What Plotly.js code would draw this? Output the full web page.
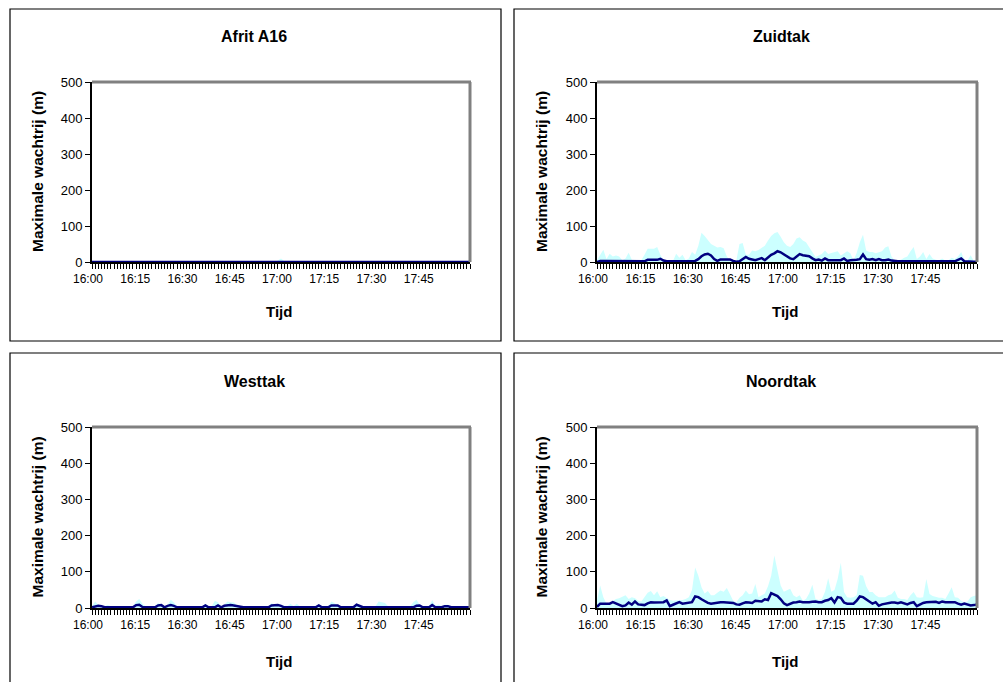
<!DOCTYPE html>
<html>
<head>
<meta charset="utf-8">
<script src="https://cdn.plot.ly/plotly-3.0.1.min.js"></script>
<style>
html,body{margin:0;padding:0;background:#fff;}
#chart{width:1003px;height:682px;}
</style>
</head>
<body>
<div id="chart"></div>
<script>
// Category axis: one point per minute, 16:00 .. 18:00
const START_HOUR = 16;
const N_MINUTES = 121;
const TICK_LABELS = ["16:00","16:15","16:30","16:45","17:00","17:15","17:30","17:45"];

const PANEL_TITLES = ["Afrit A16","Zuidtak","Westtak","Noordtak"];
const X_TITLE = "Tijd";
const Y_TITLE = "Maximale wachtrij (m)";

// Afrit A16
const afritMax = [
0,0,0,0,0,0,0,0,0,0,
0,0,0,0,0,0,0,0,0,0,
0,0,0,0,0,0,0,0,0,0,
0,0,0,0,0,0,0,0,0,0,
0,0,0,0,0,0,0,0,0,0,
0,0,0,0,0,0,0,0,0,4,
10,3,0,0,0,0,0,0,0,0,
0,0,0,0,0,0,0,0,0,0,
0,0,0,0,3,0,0,0,0,0,
0,0,0,0,0,0,0,0,0,0,
0,0,0,0,0,0,0,0,0,0,
0,0,0,0,0,0,0,0,0,0,
0];
const afritMean = [
0,0,0,0,0,0,0,0,0,0,
0,0,0,0,0,0,0,0,0,0,
0,0,0,0,0,0,0,0,0,0,
0,0,0,0,0,0,0,0,0,0,
0,0,0,0,0,0,0,0,0,0,
0,0,0,0,0,0,0,0,0,1,
2,1,0,0,0,0,0,0,0,0,
0,0,0,0,0,0,0,0,0,0,
0,0,0,0,1,0,0,0,0,0,
0,0,0,0,0,0,0,0,0,0,
0,0,0,0,0,0,0,0,0,0,
0,0,0,0,0,0,0,0,0,0,
0];

// Zuidtak
const zuidMax = [
5,20,34,8,23,15,18,15,5,10,
26,6,5,4,5,20,37,37,37,42,
20,5,3,3,3,23,12,20,5,10,
28,20,45,81,72,60,50,45,40,42,
38,15,5,3,4,50,53,20,20,32,
30,33,38,45,60,72,80,83,70,55,
45,42,50,65,69,60,55,40,25,14,
18,22,32,22,25,28,30,18,23,30,
24,5,25,55,76,32,28,28,24,26,
30,40,44,15,4,4,6,12,15,30,
42,8,15,28,8,22,10,6,5,10,
4,5,12,8,15,28,6,4,19,3,
3];
const zuidMean = [
0,3,3,3,2,2,2,2,2,2,
4,4,2,2,2,2,6,6,6,6,
9,4,2,2,2,2,2,2,3,3,
3,3,8,16,21,23,18,8,3,7,
7,7,7,3,1,2,8,14,9,6,
5,8,11,5,12,20,24,30,27,22,
16,10,8,16,22,19,17,16,10,5,
7,4,10,5,5,5,5,5,10,3,
5,5,6,8,21,8,6,8,5,8,
5,5,7,4,2,2,2,2,2,2,
4,2,2,2,3,2,2,2,3,2,
2,2,2,2,6,10,2,1,1,1,
1];

// Westtak
const westMax = [
5,18,8,5,5,8,5,5,6,5,
5,5,5,5,18,25,12,5,5,5,
5,14,10,5,8,23,15,5,5,5,
6,6,5,5,5,5,12,5,5,20,
16,5,10,18,16,15,8,5,5,5,
5,5,5,5,5,5,5,13,10,10,
8,5,5,12,5,12,5,5,5,5,
5,5,10,5,5,5,18,12,8,5,
5,5,5,5,11,8,5,5,5,5,
5,18,16,14,5,5,5,5,5,5,
5,5,16,23,10,5,5,5,22,6,
10,5,9,9,5,5,5,5,5,5,
5];
const westMean = [
2,5,6,5,2,2,2,2,3,2,
2,2,2,2,8,9,3,2,2,2,
2,7,8,2,6,8,6,2,2,2,
3,3,2,2,2,2,7,2,2,2,
7,2,6,8,8,7,5,2,2,2,
2,2,2,2,2,2,2,7,8,8,
6,2,2,2,2,2,2,2,2,2,
2,2,7,2,2,2,7,8,7,2,
2,2,2,2,9,6,2,2,2,2,
2,2,2,2,2,2,2,2,2,2,
2,2,2,6,7,2,2,2,8,2,
2,2,5,5,2,2,2,2,2,2,
2];

// Noordtak
const noordMax = [
20,62,30,12,14,20,25,27,32,35,
25,30,27,20,18,30,42,47,35,46,
30,33,28,22,20,20,20,22,25,30,
50,112,89,57,40,47,35,35,42,48,
45,55,38,20,16,28,35,48,38,40,
66,30,35,40,60,89,145,98,62,45,
48,53,35,30,35,20,25,40,64,25,
22,25,45,82,45,50,80,125,44,30,
28,30,35,91,89,60,44,44,35,30,
30,30,35,38,48,28,25,25,22,35,
44,30,28,30,80,39,33,30,28,28,
25,40,57,30,28,20,15,18,30,33,
35];
const noordMean = [
3,12,12,12,12,16,13,8,5,7,
15,9,18,10,8,8,13,16,15,15,
14,16,21,5,9,12,16,12,14,14,
16,32,30,24,18,14,12,14,16,16,
16,16,16,14,10,9,13,16,15,14,
20,20,18,24,22,41,38,33,24,13,
8,12,15,16,18,16,15,16,17,18,
16,16,20,22,27,15,30,28,15,12,
12,12,20,32,30,24,20,12,16,6,
10,12,14,15,15,13,16,14,10,14,
16,5,10,14,16,16,18,17,14,18,
16,16,16,16,12,9,12,9,7,8,
10];

const PANELS = [
  {max: afritMax, mean: afritMean},
  {max: zuidMax, mean: zuidMean},
  {max: westMax, mean: westMean},
  {max: noordMax, mean: noordMean}
];

// ---- build axis categories (minutes since 16:00) ----
const minutes = [];
for (let i = 0; i < N_MINUTES; i++) minutes.push(i);
const labelMap = {};
TICK_LABELS.forEach(l => {
  const [h, m] = l.split(":").map(Number);
  labelMap[(h - START_HOUR) * 60 + m] = l;
});
const tickText = minutes.map(m => labelMap[m] !== undefined ? labelMap[m] : "");

// ---- geometry (pixels) ----
const W = 1003, H = 682;
const px = v => v / W;
const py = v => 1 - v / H;
const plotX = [[92, 470], [597, 977]];
const plotY = [[82, 262], [427, 608]];
const boxX = [[10, 501], [514, 1020]];
const boxY = [[9, 341], [353, 700]];

const FONT = "Liberation Sans, Arial, sans-serif";
const traces = [];
const layout = {
  width: W, height: H,
  margin: {l: 0, r: 0, t: 0, b: 0},
  paper_bgcolor: "#ffffff",
  plot_bgcolor: "#ffffff",
  showlegend: false,
  font: {family: FONT, color: "#000"},
  shapes: [],
  annotations: []
};

PANELS.forEach((p, i) => {
  const r = Math.floor(i / 2), c = i % 2;
  const n = i + 1;
  const xa = "x" + (n === 1 ? "" : n), ya = "y" + (n === 1 ? "" : n);
  const xk = "xaxis" + (n === 1 ? "" : n), yk = "yaxis" + (n === 1 ? "" : n);

  traces.push({
    x: minutes, y: p.max, xaxis: xa, yaxis: ya,
    type: "scatter", mode: "lines", fill: "tozeroy",
    fillcolor: "#CCFFFF", line: {width: 0, color: "#CCFFFF"},
    hoverinfo: "skip"
  });
  traces.push({
    x: minutes, y: p.mean, xaxis: xa, yaxis: ya,
    type: "scatter", mode: "lines",
    line: {width: 2.5, color: "#000080"},
    hoverinfo: "skip"
  });

  layout[xk] = {
    domain: [px(plotX[c][0]), px(plotX[c][1])],
    anchor: ya, range: [0, 120], fixedrange: true,
    tickmode: "array", tickvals: minutes, ticktext: tickText,
    ticks: "outside", ticklen: 5, tickwidth: 1, tickcolor: "#000",
    ticklabelshift: -4,
    showline: true, linecolor: "#000", linewidth: 2,
    showgrid: false, zeroline: false,
    tickfont: {family: FONT, size: 12, color: "#000"}
  };
  layout[yk] = {
    domain: [py(plotY[r][1]), py(plotY[r][0])],
    anchor: xa, range: [0, 500], fixedrange: true,
    tickmode: "linear", tick0: 0, dtick: 100,
    ticks: "outside", ticklen: 5, tickwidth: 1, tickcolor: "#000",
    showline: true, linecolor: "#000", linewidth: 2,
    showgrid: false, zeroline: false,
    tickfont: {family: FONT, size: 13, color: "#000"}
  };

  // grey plot-area border (top & right)
  layout.shapes.push({type: "line", xref: "paper", yref: "paper", layer: "above",
    x0: px(plotX[c][0]), x1: px(plotX[c][1]) + 1/W, y0: py(plotY[r][0]), y1: py(plotY[r][0]),
    line: {color: "#808080", width: 3}});
  layout.shapes.push({type: "line", xref: "paper", yref: "paper", layer: "above",
    x0: px(plotX[c][1]), x1: px(plotX[c][1]), y0: py(plotY[r][0]), y1: py(plotY[r][1]),
    line: {color: "#808080", width: 3}});
  // panel frame
  layout.shapes.push({type: "rect", xref: "paper", yref: "paper", layer: "above",
    x0: px(boxX[c][0]), x1: px(boxX[c][1]), y0: py(boxY[r][0]), y1: py(boxY[r][1]),
    line: {color: "#000", width: 1.2}, fillcolor: "rgba(0,0,0,0)"});

  const cx = (c === 0) ? 254 : 781;
  const titleY = (r === 0) ? 37 : 382;
  const tijdY = (r === 0) ? 311 : 661;
  const yTitleX = (c === 0) ? 37 : 541;
  const yTitleY = (plotY[r][0] + plotY[r][1]) / 2;

  layout.annotations.push({xref: "paper", yref: "paper", x: px(cx), y: py(titleY),
    xanchor: "center", yanchor: "middle", showarrow: false,
    text: "<b>" + PANEL_TITLES[i] + "</b>", font: {family: FONT, size: 16, color: "#000"}});
  layout.annotations.push({xref: "paper", yref: "paper", x: px((plotX[c][0] + plotX[c][1]) / 2 - 2), y: py(tijdY),
    xanchor: "center", yanchor: "middle", showarrow: false,
    text: "<b>" + X_TITLE + "</b>", font: {family: FONT, size: 15, color: "#000"}});
  layout.annotations.push({xref: "paper", yref: "paper", x: px(yTitleX), y: py(yTitleY),
    xanchor: "center", yanchor: "middle", showarrow: false, textangle: -90,
    text: "<b>" + Y_TITLE + "</b>", font: {family: FONT, size: 15.5, color: "#000"}});
});

Plotly.newPlot("chart", traces, layout, {staticPlot: true, displayModeBar: false});
</script>
</body>
</html>
